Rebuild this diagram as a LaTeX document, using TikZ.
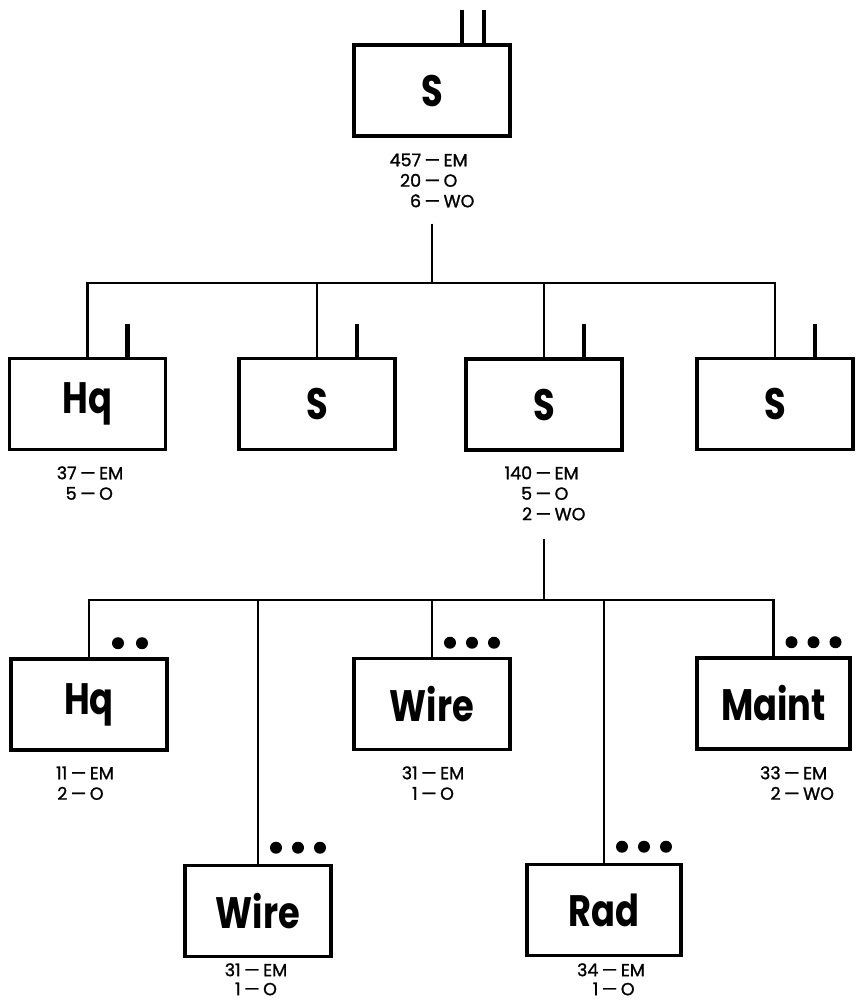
\documentclass[tikz,border=0pt]{standalone}
\usepackage{fontspec}
\setmainfont{Poppins}
\newfontfamily\boxfont[FakeStretch=0.8]{Poppins}
\newfontfamily\labfont[FakeBold=1.2]{Poppins}
\newcommand{\strength}[1]{\begin{tabular}{@{}r@{\hspace{3.5pt}—\hspace{3.5pt}}l@{}}#1\end{tabular}}
\begin{document}
\begin{tikzpicture}[x=1pt,y=-1pt,
  orgbox/.style={draw, line width=3.6pt, minimum width=#1, minimum height=91pt, inner sep=0pt,
    font=\boxfont\bfseries\fontsize{44}{44}\selectfont},
  orgbox/.default=156pt,
  conn/.style={line width=2.6pt},
  stub/.style={line width=4.2pt},
  lab/.style={inner sep=0pt, anchor=north, font=\labfont\fontsize{17.5}{20.5}\selectfont},
  dotc/.style={fill=black}]
\useasboundingbox (0,0) rectangle (858,1007);

% top unit
\node[orgbox] (top) at (432,90.5) {S};
\draw[stub] ([xshift=30pt]top.north) -- ++(0,-33);
\draw[stub] ([xshift=52pt]top.north) -- ++(0,-33);
\node[lab] (toplab) at (432,151.7) {\strength{457&EM\\20&O\\6&WO}};
\coordinate (j0) at (432,283);

% level 2
\node[orgbox] (hqA) at (87.5,404) {Hq};
\node[orgbox] (sB) at (317,404) {S};
\node[orgbox] (sC) at (544,404.5) {S};
\node[orgbox] (sD) at (775,404) {S};
\draw[conn] (toplab.south -| top.south) ++(0,10) -- (j0);
\draw[conn] (hqA.north) -- (hqA.north |- j0) -- (sD.north |- j0) -- (sD.north);
\draw[conn] (sB.north |- j0) -- (sB.north);
\draw[conn] (sC.north |- j0) -- (sC.north);
\foreach \n in {hqA,sB,sC,sD} \draw[stub] ([xshift=40pt]\n.north) -- ++(0,-33);
\node[lab] (hqAlab) at (90,464.7) {\strength{37&EM\\5&O}};
\node[lab] (sClab) at (545,464.7) {\strength{140&EM\\5&O\\2&WO}};
\coordinate (j1) at (544,600);
\draw[conn] (sClab.south -| sC.south) ++(0,12) -- (j1);

% level 3 and 4
\node[orgbox] (hqE) at (89,704.5) {Hq};
\node[orgbox] (wireF) at (432,704) {Wire};
\node[orgbox=153pt] (maintG) at (773.5,703.5) {Maint};
\node[orgbox=146pt] (wireH) at (258,911) {Wire};
\node[orgbox=154pt] (radI) at (604,910) {Rad};
\draw[conn] (hqE.north) -- (hqE.north |- j1) -- (maintG.north |- j1) -- (maintG.north);
\draw[conn] (wireF.north |- j1) -- (wireF.north);
\draw[conn] (wireH.north |- j1) -- (wireH.north);
\draw[conn] (radI.north |- j1) -- (radI.north);

% dots
\fill[dotc] ([xshift=29pt,yshift=14pt]hqE.north) circle (6pt);
\fill[dotc] ([xshift=53pt,yshift=14pt]hqE.north) circle (6pt);
\foreach \n/\dy in {wireF/14pt,maintG/14pt,wireH/16pt,radI/16pt}{
  \foreach \dx in {18pt,40pt,62pt}
    \fill[dotc] ([xshift=\dx,yshift=\dy]\n.north) circle (6pt);
}

% labels
\node[lab] (hqElab) at (85,764.7) {\strength{11&EM\\2&O}};
\node[lab] (wireFlab) at (433,764.7) {\strength{31&EM\\1&O}};
\node[lab] (maintGlab) at (797,764.7) {\strength{33&EM\\2&WO}};
\node[lab, font=\labfont\fontsize{17.5}{19}\selectfont] (wireHlab) at (256,962.7) {\strength{31&EM\\1&O}};
\node[lab, font=\labfont\fontsize{17.5}{19}\selectfont] (radIlab) at (611,962.7) {\strength{34&EM\\1&O}};
\end{tikzpicture}
\end{document}
